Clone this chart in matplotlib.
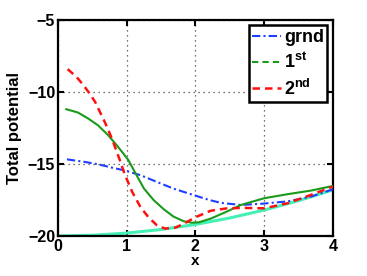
import matplotlib
matplotlib.use("Agg")
import matplotlib.pyplot as plt
from matplotlib.lines import Line2D

plt.rcParams['font.family'] = ['Liberation Sans', 'DejaVu Sans']
plt.rcParams['font.weight'] = 'bold'
plt.rcParams['mathtext.fontset'] = 'custom'
plt.rcParams['mathtext.rm'] = 'Liberation Sans:bold'
plt.rcParams['mathtext.bf'] = 'Liberation Sans:bold'
plt.rcParams['mathtext.it'] = 'Liberation Sans:bold'

# data
grnd_x = [0.13, 0.39, 0.58, 0.78, 0.97, 1.2, 1.44, 1.68, 1.98, 2.2, 2.37, 2.66, 3.0, 3.34, 3.68, 4.0]
grnd_y = [-14.68, -14.86, -15.02, -15.25, -15.45, -15.78, -16.25, -16.71, -17.17, -17.5, -17.7, -17.85, -17.75, -17.6, -17.27, -16.76]

first_x = [0.12, 0.29, 0.44, 0.58, 0.73, 0.88, 1.02, 1.14, 1.25, 1.39, 1.54, 1.68, 1.83, 1.95, 2.05, 2.22, 2.46, 2.66, 3.0, 3.34, 3.68, 4.0]
first_y = [-11.2, -11.43, -11.85, -12.31, -13.0, -13.85, -14.7, -15.75, -16.7, -17.5, -18.15, -18.65, -18.98, -19.08, -19.05, -18.8, -18.3, -17.85, -17.38, -17.1, -16.85, -16.53]

second_x = [0.14, 0.27, 0.37, 0.46, 0.54, 0.61, 0.68, 0.755, 0.83, 0.9, 0.97, 1.08, 1.2, 1.32, 1.44, 1.56, 1.71, 1.85, 2.0, 2.22, 2.46, 2.7, 3.0, 3.34, 3.68, 4.0]
second_y = [-8.42, -8.96, -9.53, -10.11, -10.69, -11.39, -12.08, -12.9, -13.82, -14.74, -15.7, -16.94, -17.99, -18.72, -19.26, -19.49, -19.42, -19.1, -18.7, -18.25, -18.08, -18.05, -18.08, -17.73, -17.15, -16.57]

base_x = [0.0, 0.5, 1.0, 1.5, 2.0, 2.5, 3.0, 3.5, 4.0]
base_y = [-20.0, -19.95, -19.8, -19.55, -19.2, -18.75, -18.2, -17.55, -16.8]

labels = ['grnd', r'1$^{st}$', r'2$^{nd}$']
xticks = [0, 1, 2, 3, 4]
yticks = [-20, -15, -10, -5]
yticklabels = ['\u221220', '\u221215', '\u221210', '\u22125']

c_blue = '#1f3fff'
c_green = '#1a9a1a'
c_red = '#ff1010'
c_cyan = '#45f0b5'

fig = plt.figure(figsize=(3.67, 2.76), dpi=100)
ax = fig.add_axes([0.158, 0.145, 0.749, 0.783])

ax.plot(base_x, base_y, color=c_cyan, lw=2.2, zorder=2)
ax.plot(grnd_x, grnd_y, color=c_blue, lw=1.5, ls=(0, (4, 1.5, 1, 1.5)), zorder=3)
ax.plot(first_x, first_y, color=c_green, lw=1.5, ls='-', zorder=3)
ax.plot(second_x, second_y, color=c_red, lw=1.8, ls=(0, (3, 2)), zorder=4)

ax.set_xlim(0, 4)
ax.set_ylim(-20, -5)
ax.set_xticks(xticks)
ax.set_yticks(yticks)
ax.set_yticklabels(yticklabels)
ax.tick_params(direction='in', top=True, right=True, length=4, width=1.5, labelsize=11.5, pad=2)
for lab in ax.get_xticklabels() + ax.get_yticklabels():
    lab.set_fontweight('bold')
for s in ax.spines.values():
    s.set_linewidth(1.6)
ax.grid(True, ls=(0, (1, 3)), color='#444444', lw=0.9)

ax.set_xlabel('x', fontsize=11, fontweight='bold', labelpad=0)
ax.set_ylabel('Total potential', fontsize=12, fontweight='bold', labelpad=4)

handles = [
    Line2D([], [], color=c_blue, lw=1.5, ls=(0, (4, 1.5, 1, 1.5))),
    Line2D([], [], color=c_green, lw=1.5, ls=(0, (3, 2))),
    Line2D([], [], color=c_red, lw=1.8, ls=(0, (3, 2))),
]
leg = ax.legend(handles, labels, loc='upper right', fontsize=13, frameon=True, fancybox=False,
                handlelength=1.6, handletextpad=0.15, borderpad=0.2, labelspacing=0.35,
                borderaxespad=0.3, framealpha=1)
leg.get_frame().set_edgecolor('black')
leg.get_frame().set_linewidth(1.8)
for t in leg.get_texts():
    t.set_fontweight('bold')

fig.savefig('out.png', dpi=100)
